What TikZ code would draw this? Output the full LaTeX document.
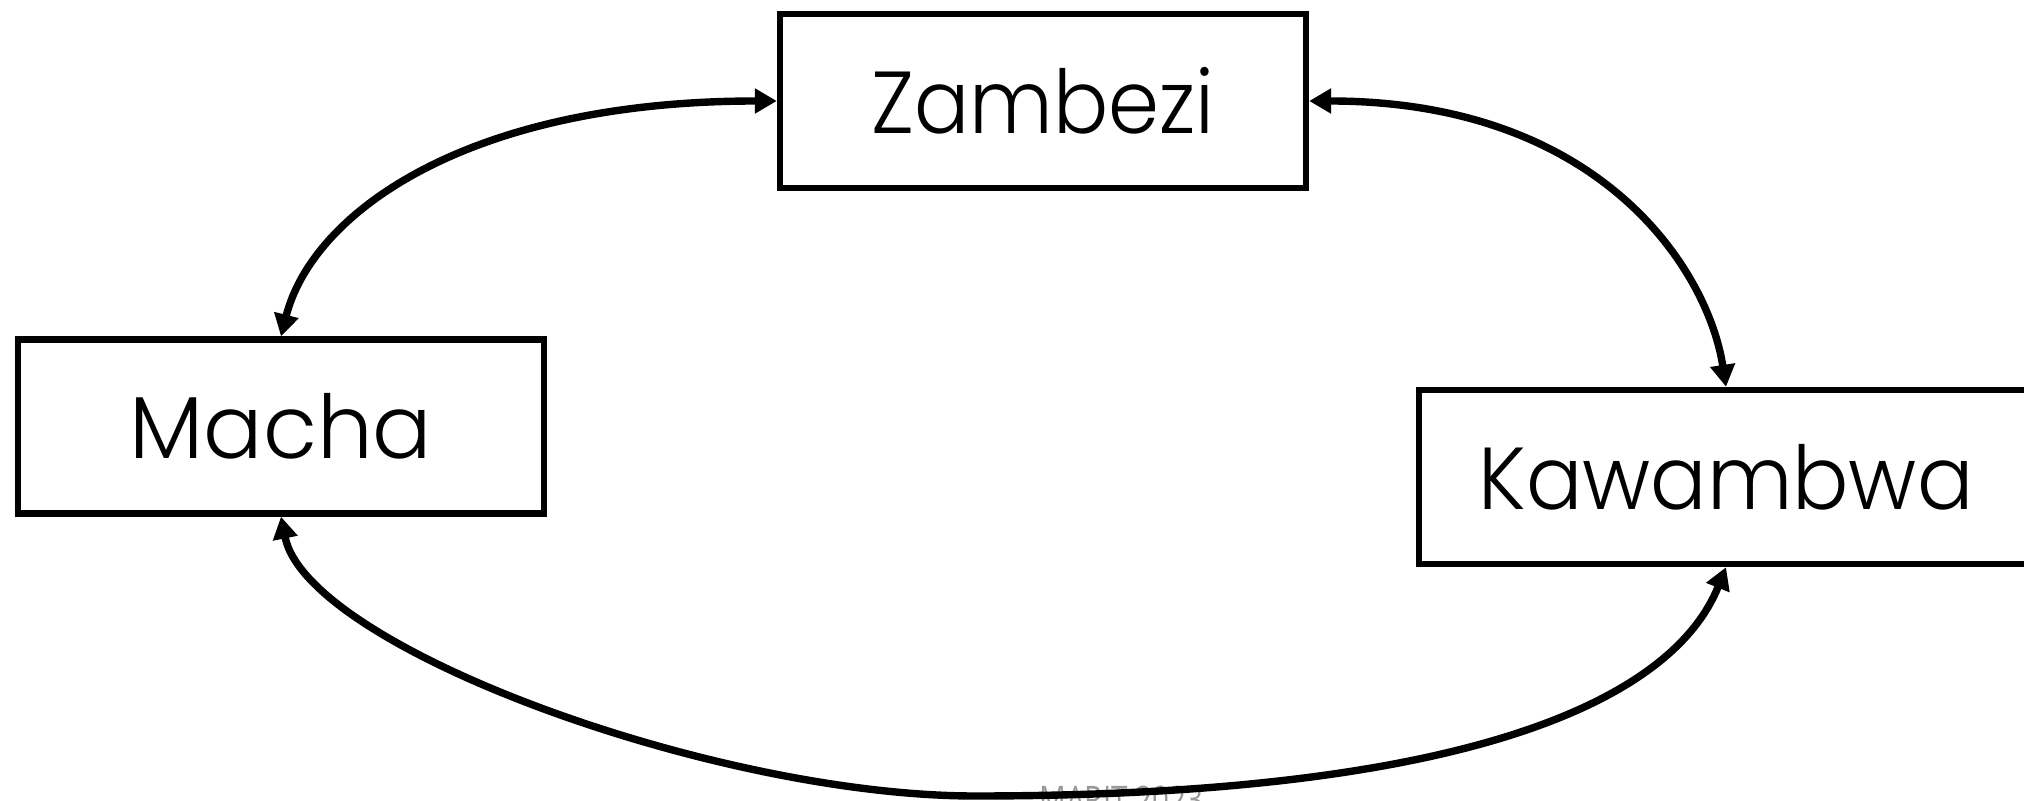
\documentclass[tikz,border=0pt]{standalone}
\usepackage{fontspec}
\setmainfont{Poppins Light}
\newfontfamily\wmfont{Open Sans}
\usetikzlibrary{arrows.meta}
\tikzset{mytip/.tip={Triangle[length=11pt,width=12pt]}}
\begin{document}
\begin{tikzpicture}[x=0.5pt,y=-0.5pt,
  place/.style={draw=black, line width=3.2pt, rectangle, minimum width=263pt, minimum height=87pt, inner sep=0pt, font=\fontsize{44}{50}\selectfont},
  link/.style={line width=3.7pt},
  mark2/.style={text=black!40, font=\wmfont\fontsize{19}{21}\selectfont, inner sep=0pt}]
\useasboundingbox (0,0) rectangle (2024,801);
\node[place] (z) at (1043,101) {\scalebox{0.93}[1]{Zambezi}};
\node[place] (m) at (281,426.5) {Macha};
\node[place, minimum width=307pt] (k) at (1726,477) {\scalebox{0.95}[1]{Kawambwa}};
\coordinate (bot) at (975,796);
\node[mark2, anchor=north west] (wm) at (1039,786) {\scalebox{0.78}[1]{MARIT 2023}};
\draw[link, mytip-mytip] (z.west) .. controls (465,101) and (312,214) .. (m.north);
\draw[link, mytip-mytip] (z.east) .. controls (1601,101) and (1708,270) .. (k.north);
\draw[link, mytip-] (m.south) .. controls (307,647) and (714,796) .. (bot);
\draw[link, -mytip] (bot) .. controls (1486,796) and (1675,694) .. (k.south);
\end{tikzpicture}
\end{document}
